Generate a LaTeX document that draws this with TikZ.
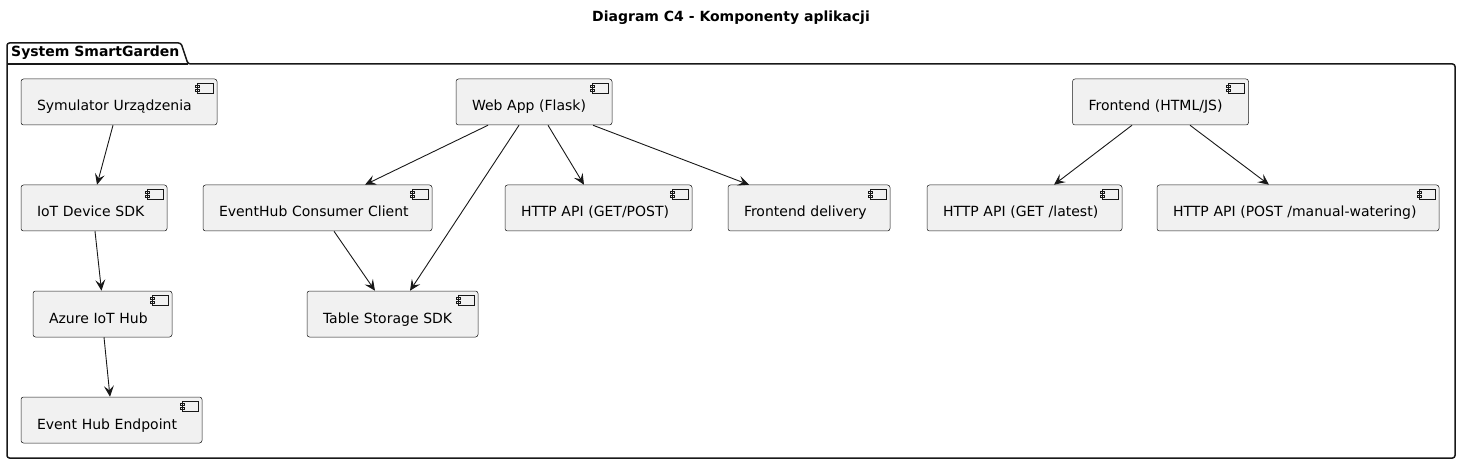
\documentclass[tikz,border=0pt]{standalone}
\usepackage{fontspec}
\setmainfont{DejaVu Sans}
\usetikzlibrary{arrows.meta}
\definecolor{boxfill}{HTML}{F1F1F1}
\definecolor{edge}{HTML}{181818}

\begin{document}
\begin{tikzpicture}[x=1pt, y=-1pt,
        comp/.style = {draw=edge, fill=boxfill, line width=0.5pt, rounded corners=2.5pt,
                       minimum height=46pt, inner xsep=16pt, align=left,
                       text height=18pt, text depth=0pt,
                       font=\fontsize{14pt}{16pt}\selectfont,
                       path picture={
                         \draw[edge, fill=boxfill, sharp corners, line width=0.4pt]
                           ([shift={(-20,4)}]path picture bounding box.north east)  rectangle ++(16,10)
                           ([shift={(-22,6.5)}]path picture bounding box.north east) rectangle ++(4,2)
                           ([shift={(-22,10)}]path picture bounding box.north east) rectangle ++(4,2);}},
        link/.style = {draw=edge, line width=0.9pt, -{Stealth[length=11pt, width=10pt, inset=4.5pt]}},
        heading/.style = {font=\bfseries\fontsize{14pt}{16pt}\selectfont, inner sep=0pt}]
        \useasboundingbox (0,0) rectangle (1462,465);

        \node[heading] (title) at (731,18) {Diagram C4 - Komponenty aplikacji};

        % package with its tab
        \draw[edge, line width=1.5pt, rounded corners=2.5pt]
            (7,64) -- (7,43) -- (181,43) -- (188,64) -- (1455,64) -- (1455,458) -- (7,458) -- cycle;
        \draw[edge, line width=1.5pt] (7,64) -- (188,64);
        \node[heading, anchor = base west] (pkgname) at (11,57) {System SmartGarden};

        % device side
        \node[comp, text width=164pt] (sim)      at ( 119  ,102) {Symulator Urządzenia};
        \node[comp, text width=114pt] (iot)      at (  94  ,208) {IoT Device SDK};
        \node[comp, text width=107pt] (azure)    at ( 102.5,314) {Azure IoT Hub};
        \node[comp, text width=149pt] (ehend)    at ( 111.5,420) {Event Hub Endpoint};

        % web app side
        \node[comp, text width=124pt] (web)      at ( 534  ,102) {Web App (Flask)};
        \node[comp, text width=197pt] (consumer) at ( 317.5,208) {EventHub Consumer Client};
        \node[comp, text width=139pt] (table)    at ( 392.5,314) {Table Storage SDK};
        \node[comp, text width=155pt] (httpapi)  at ( 598.5,208) {HTTP API (GET/POST)};
        \node[comp, text width=130pt] (delivery) at ( 809  ,208) {Frontend delivery};

        % frontend side
        \node[comp, text width=144pt] (frontend) at (1160.5,102) {Frontend (HTML/JS)};
        \node[comp, text width=163pt] (latest)   at (1024.5,208) {HTTP API (GET /latest)};
        \node[comp, text width=250pt] (manual)   at (1298  ,208) {HTTP API (POST /manual-watering)};

        \draw[link] ([xshift=-6]sim.south)        -- ([xshift=3]iot.north);
        \draw[link] ([xshift=1]iot.south)         -- ([xshift=-1]azure.north);
        \draw[link] ([xshift=1.5]azure.south)     -- ([xshift=-1.5]ehend.north);
        \draw[link] ([xshift=-46]web.south)       -- ([xshift=47.5]consumer.north);
        \draw[link] ([xshift=-15]web.south)       -- ([xshift=17.5]table.north);
        \draw[link] ([xshift=14]web.south)        -- ([xshift=-14.5]httpapi.north);
        \draw[link] ([xshift=59]web.south)        -- ([xshift=-60]delivery.north);
        \draw[link] ([xshift=16.5]consumer.south) -- ([xshift=-17.5]table.north);
        \draw[link] ([xshift=-28.5]frontend.south) -- ([xshift=29.5]latest.north);
        \draw[link] ([xshift=29.5]frontend.south) -- ([xshift=-29]manual.north);
\end{tikzpicture}
\end{document}
